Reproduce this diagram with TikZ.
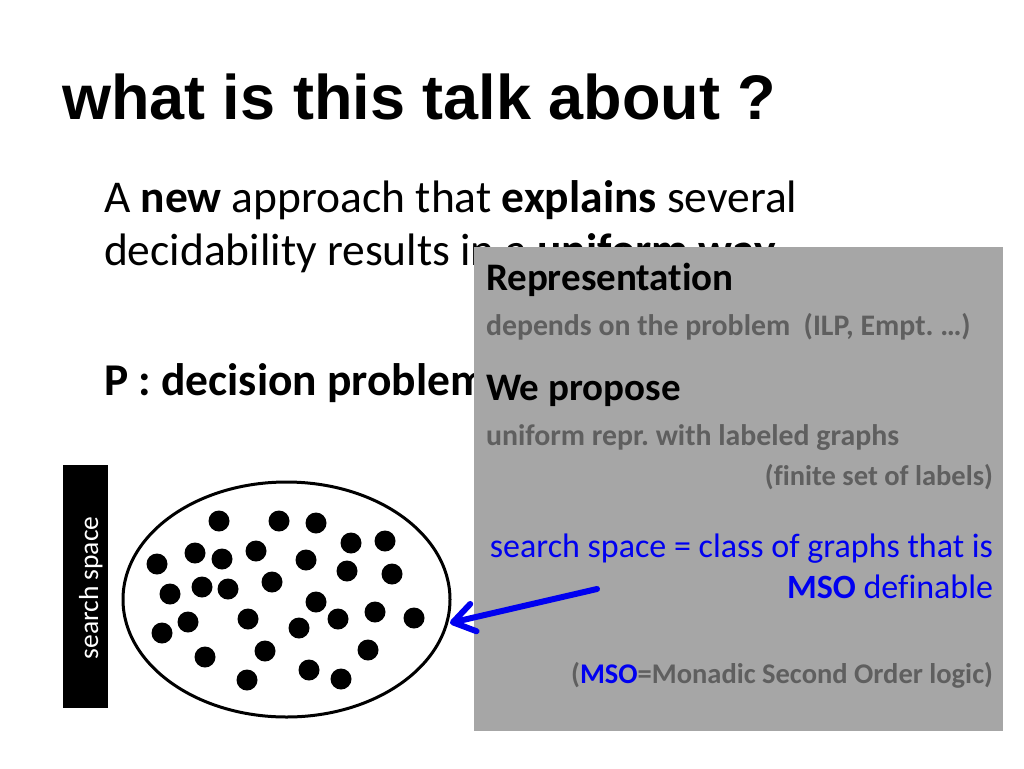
\documentclass[tikz,border=0pt]{standalone}
\usepackage{fontspec}
\setmainfont{Carlito}[Ligatures={NoCommon}]
\newfontfamily\titlefont{Liberation Sans}
\usetikzlibrary{arrows.meta}
\definecolor{boxgray}{HTML}{A6A6A6}
\definecolor{txtgray}{HTML}{5F5F5F}
\definecolor{msoblue}{HTML}{0000F0}
\newcommand{\fsz}[1]{\fontsize{#1}{#1}\selectfont}
\frenchspacing
\begin{document}
\begin{tikzpicture}[x=1pt,y=-1pt,
  txt/.style={inner sep=0pt, outer sep=0pt},
  dot/.style={circle, fill=black, inner sep=0pt, minimum size=21pt},
  boxhead/.style={txt, anchor=base west, font=\bfseries\fsz{39}},
  boxsub/.style={txt, font=\bfseries\fsz{29.8}, text=txtgray},
  boxsubr/.style={txt, anchor=base east, font=\bfseries\fsz{28.5}, text=txtgray},
  bluetxt/.style={txt, anchor=base east, font=\fsz{34}, text=msoblue},
  bluearrow/.style={draw=msoblue, line width=6pt, line cap=round,
     -{Straight Barb[length=21pt,width=28pt,round]}}]
\useasboundingbox (0,0) rectangle (1024,768);
\fill[white] (0,0) rectangle (1024,768);
% title
\node[txt, anchor=base west, font=\titlefont\bfseries\fsz{63}] (title) at (62,119) {what is this talk about ?};
% body text
\node[txt, anchor=base west, font=\fsz{45.5}] (l1) at (104,212) {A \textbf{new} approach that \textbf{explains} several};
\node[txt, anchor=base west, font=\fsz{45.5}] (l2) at (104,265) {decidability results in a \textbf{uniform way}};
\node[txt, anchor=base west, font=\bfseries\fsz{45.5}] (l3) at (104,395) {P : decision problem};
% search space label
\fill[black] (63,465) rectangle (108,708);
\node[txt, anchor=base, rotate=90, text=white, font=\fsz{27.5}] (ss) at (98,588) {search space};
% ellipse with dots
\draw[line width=3pt] (286.5,599.5) ellipse [x radius=163.5, y radius=117.5];
\foreach \x/\y [count=\i] in {219/521,279/521,316/523,351/543,385/541,157/564,195/553,222/559,256/551,306/560,347/571,392/574,170/594,202/587,228/589,272/582,316/602,162/633,188/622,248/619,299/628,338/619,375/612,414/618,205/657,265/651,368/650,247/680,309/670,341/679}
  \node[dot] (d\i) at (\x,\y) {};
% gray box
\fill[boxgray] (474,247) rectangle (1003,731);
\node[boxhead] (rep) at (486,290) {Representation};
\node[boxsub, anchor=base west] (dep) at (486,335) {depends on the problem~~(ILP, Empt. …)};
\node[boxhead] (wep) at (486,400) {We propose};
\node[boxsub, anchor=base west] (uni) at (486,445) {uniform repr. with labeled graphs};
\node[boxsubr] (fin) at (993,485) {(finite set of labels)};
\node[bluetxt] (sse) at (993,557) {search space = class of graphs that is};
\node[bluetxt] (msod) at (993,598) {\textbf{MSO} definable};
\node[boxsubr] (msol) at (993,683) {(\textcolor{msoblue}{MSO}=Monadic Second Order logic)};
% arrow
\coordinate (atail) at (597,589);
\coordinate (atip) at (450,623);
\draw[bluearrow] (atail) -- (atip);
\end{tikzpicture}
\end{document}
